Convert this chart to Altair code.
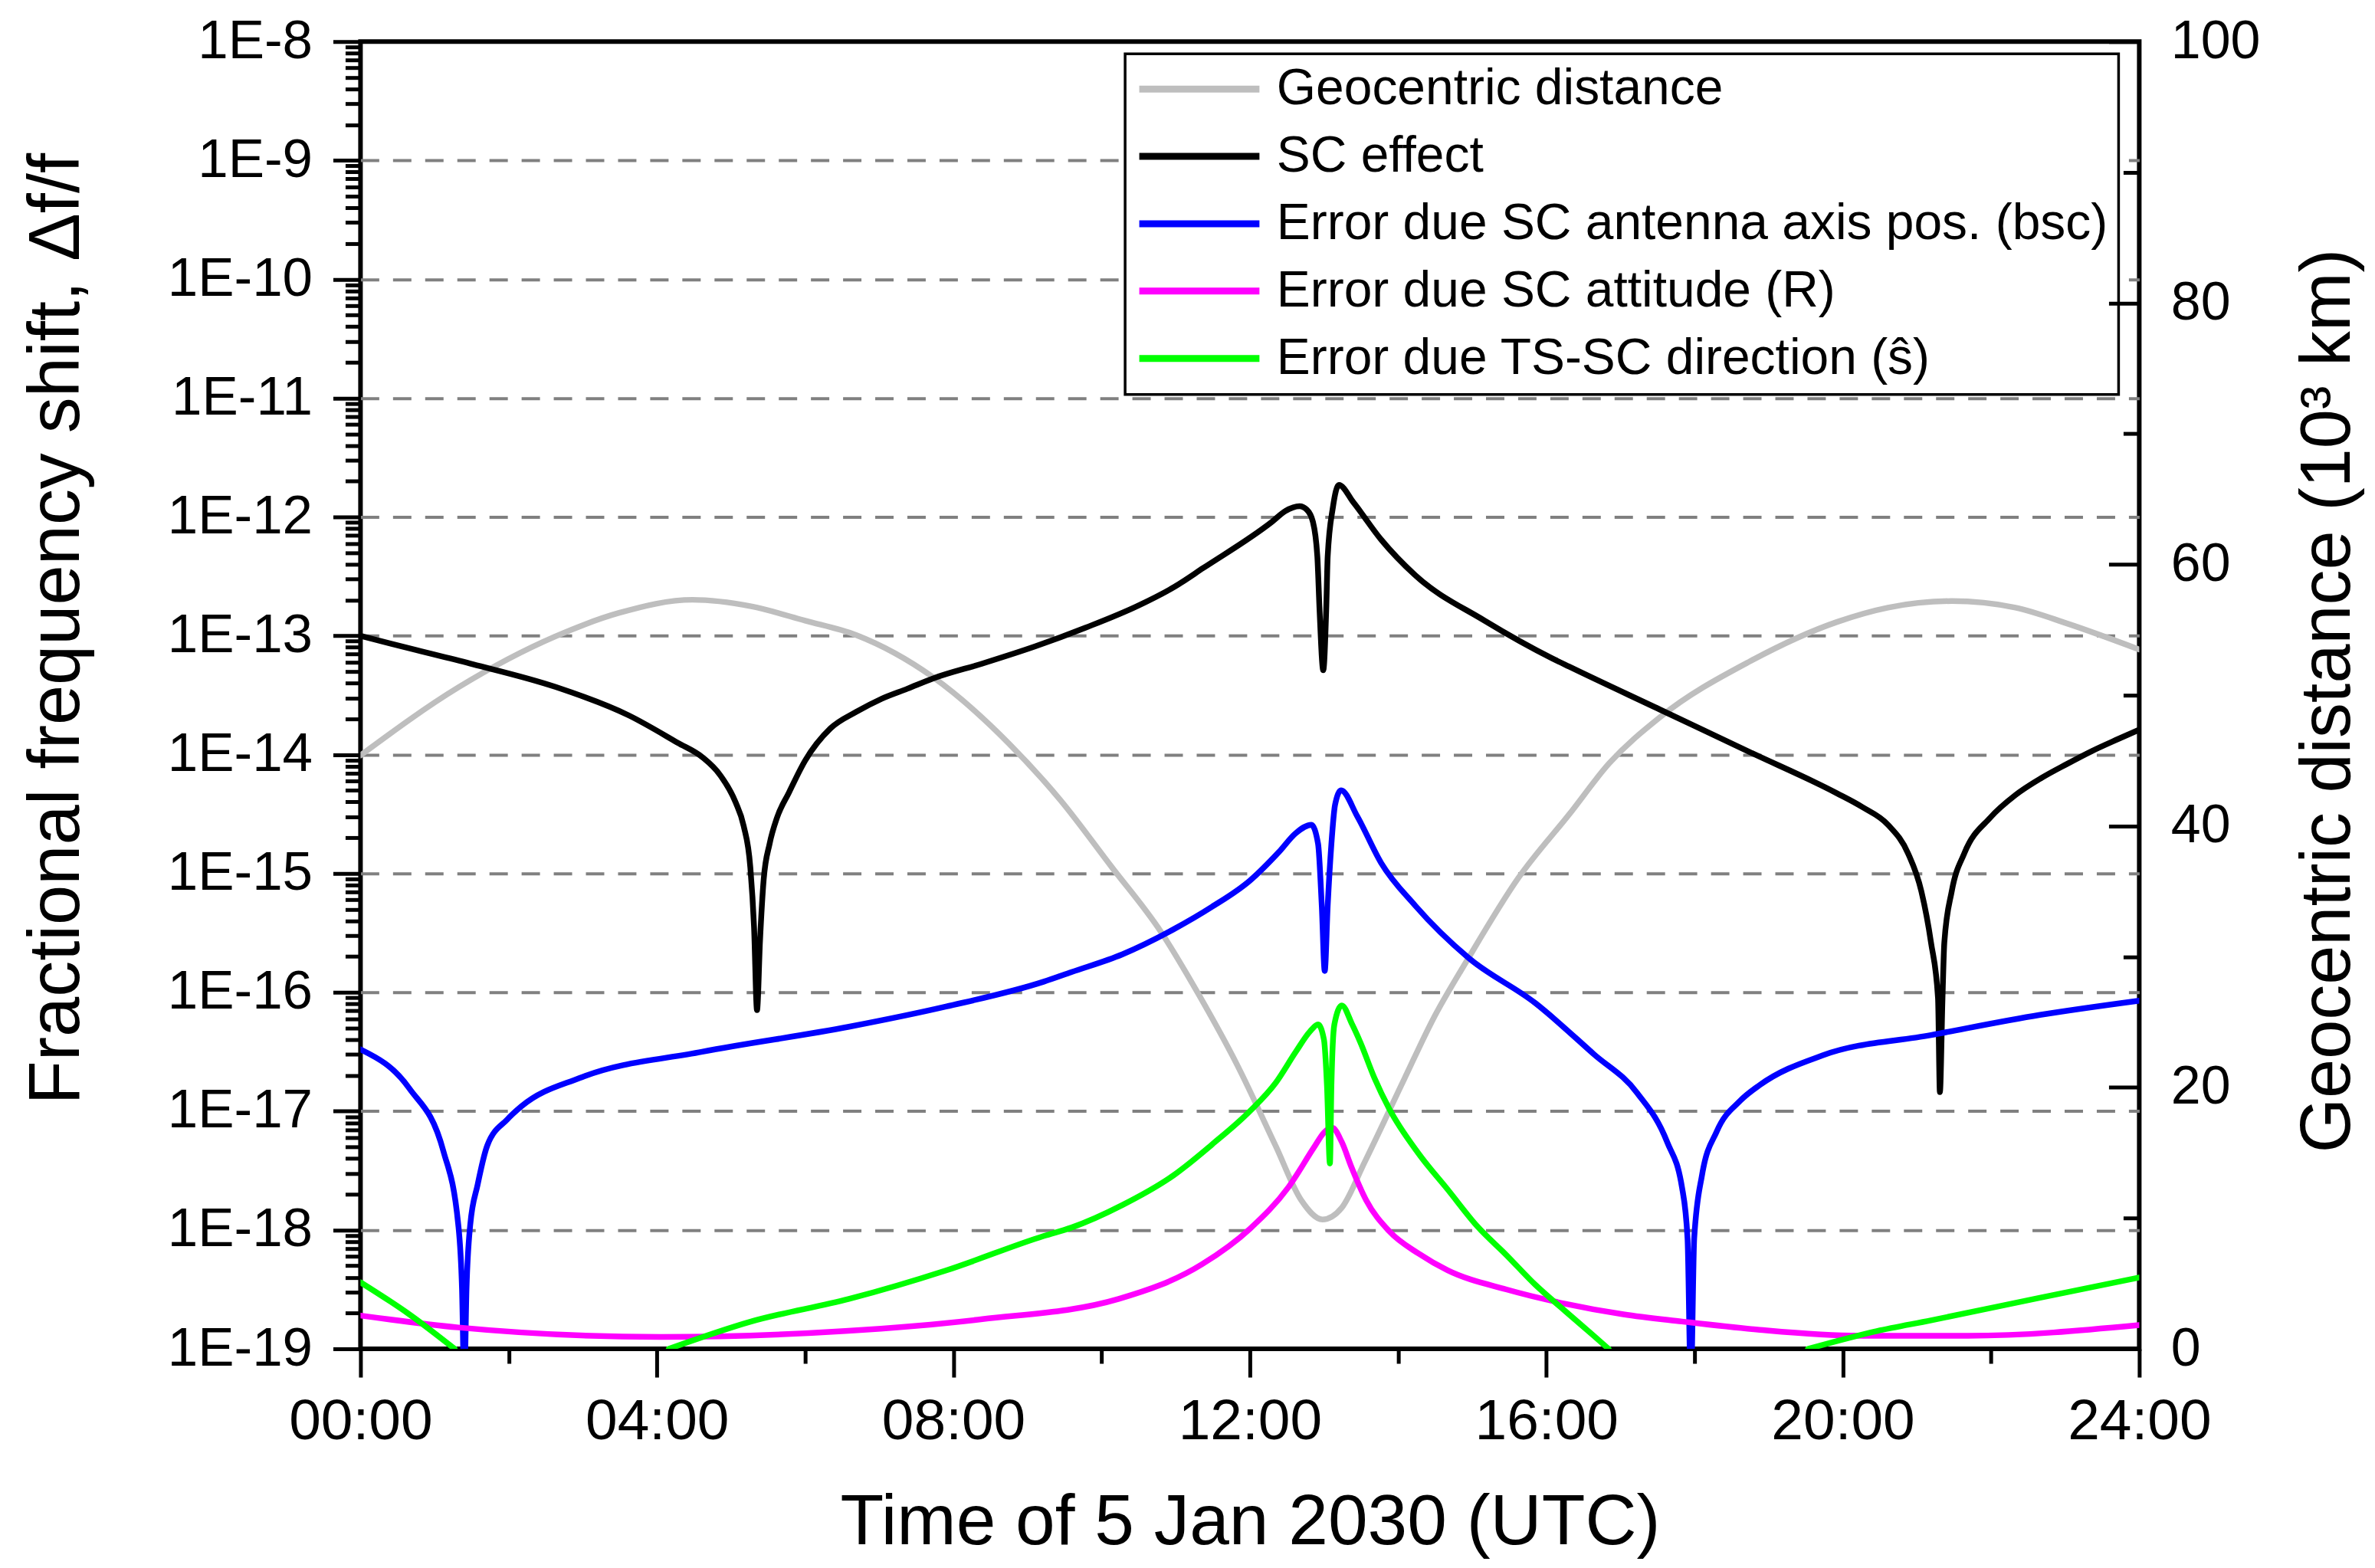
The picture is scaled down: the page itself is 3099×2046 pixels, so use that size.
import json
import numpy as np
import pandas as pd
import altair as alt

FONT = "Liberation Sans"

# ---------------- series names / colours ----------------
SERIES = [
    "Geocentric distance",
    "SC effect",
    "Error due SC antenna axis pos. (bsc)",
    "Error due SC attitude (R)",
    "Error due TS-SC direction (ŝ)",
]
COLORS = ["#BEBEBE", "#000000", "#0000FF", "#FF00FF", "#00FF00"]

# ---------------- data: (hour of day, log10 of Δf/f) ----------------
SC_EFFECT = [
    (0.00, -13.00), (0.75, -13.12), (1.52, -13.24), (2.63, -13.43), (3.62, -13.67),
    (4.28, -13.90), (4.61, -14.02), (4.85, -14.17), (5.06, -14.40), (5.17, -14.60),
    (5.26, -14.95), (5.31, -15.45), (5.35, -16.15), (5.39, -15.57), (5.44, -15.05),
    (5.52, -14.75), (5.62, -14.53), (5.78, -14.32), (6.00, -14.05), (6.34, -13.78),
    (6.69, -13.64), (7.03, -13.53), (7.38, -13.445), (7.72, -13.36), (8.41, -13.23),
    (9.10, -13.09), (9.79, -12.93), (10.48, -12.75), (10.99, -12.585), (11.37, -12.43),
    (12.30, -12.04), (12.48, -11.95), (12.67, -11.91), (12.77, -11.94), (12.85, -12.04),
    (12.91, -12.33), (12.94, -12.78), (12.99, -13.29), (13.03, -12.78), (13.05, -12.33),
    (13.12, -11.92), (13.20, -11.73), (13.40, -11.88), (13.77, -12.19), (14.23, -12.49),
    (15.16, -12.87), (16.08, -13.19), (16.31, -13.26), (17.53, -13.62), (18.75, -13.98),
    (19.92, -14.325), (20.26, -14.44), (20.61, -14.59), (20.88, -14.83), (21.06, -15.15),
    (21.19, -15.58), (21.285, -16.05), (21.31, -16.84), (21.345, -16.05), (21.37, -15.58),
    (21.47, -15.15), (21.64, -14.83), (21.99, -14.53), (22.33, -14.34), (22.67, -14.20),
    (23.02, -14.08), (23.36, -13.97), (23.71, -13.87), (24.00, -13.79),
]

ANTENNA_AXIS = [
    (0.00, -16.48), (0.66, -16.81), (1.12, -17.34), (1.32, -17.96), (1.37, -18.50),
    (1.40, -19.30), (1.43, -18.50), (1.48, -17.96), (1.58, -17.62), (1.71, -17.29),
    (1.98, -17.07), (2.17, -16.96), (2.96, -16.72), (4.61, -16.50), (6.59, -16.29),
    (7.90, -16.12), (9.22, -15.91), (9.59, -15.83), (10.28, -15.68), (10.97, -15.47),
    (11.49, -15.28), (12.00, -15.06), (12.39, -14.82), (12.62, -14.66), (12.83, -14.59),
    (12.92, -14.75), (12.97, -15.27), (13.01, -15.82), (13.05, -15.27), (13.10, -14.75),
    (13.15, -14.42), (13.23, -14.30), (13.45, -14.52), (13.77, -14.91), (14.23, -15.27),
    (14.95, -15.71), (15.85, -16.09), (16.64, -16.52), (17.23, -16.85), (17.63, -17.26),
    (17.83, -17.64), (17.905, -18.07), (17.95, -19.30), (17.995, -18.07), (18.10, -17.54),
    (18.30, -17.17), (18.62, -16.91), (18.88, -16.78), (19.73, -16.53), (21.19, -16.36),
    (22.66, -16.19), (24.00, -16.07),
]

ATTITUDE = [
    (0.00, -18.72), (1.32, -18.82), (4.05, -18.90), (6.54, -18.85), (8.39, -18.75),
    (10.23, -18.58), (11.35, -18.29), (12.00, -17.99), (12.52, -17.64), (12.87, -17.30),
    (13.00, -17.18), (13.11, -17.14), (13.24, -17.26), (13.37, -17.47), (13.57, -17.75),
    (13.88, -18.01), (14.28, -18.20), (14.67, -18.34), (15.46, -18.50), (16.25, -18.62),
    (17.04, -18.71), (17.83, -18.77), (18.88, -18.84), (20.22, -18.89), (21.69, -18.89),
    (24.00, -18.80),
]

# TS-SC direction: three visible pieces (it drops below 1E-19 in between)
DIRECTION_1 = [(0.00, -18.44), (0.66, -18.71), (1.27, -19.00)]
DIRECTION_2 = [
    (4.16, -19.00), (5.27, -18.77), (6.59, -18.58), (7.90, -18.34), (9.22, -18.05),
    (9.59, -17.98), (10.28, -17.79), (10.97, -17.54), (11.49, -17.28), (12.00, -17.00),
    (12.35, -16.76), (12.62, -16.50), (12.81, -16.33), (12.92, -16.27), (13.00, -16.40),
    (13.04, -16.78), (13.08, -17.44), (13.10, -16.78), (13.14, -16.27), (13.24, -16.11),
    (13.38, -16.27), (13.49, -16.42), (13.68, -16.72), (13.88, -16.98), (14.28, -17.36),
    (14.67, -17.66), (15.07, -17.97), (15.46, -18.21), (15.85, -18.46), (16.25, -18.68),
    (16.64, -18.89), (16.84, -19.00),
]
DIRECTION_3 = [(19.53, -19.00), (20.46, -18.85), (21.19, -18.76), (22.66, -18.57), (24.00, -18.40)]

# Geocentric distance (10^3 km), right axis
GEO_DISTANCE = [
    (0.00, 45.4), (1.32, 50.6), (2.63, 54.5), (3.49, 56.3), (4.48, 57.3), (5.27, 56.8),
    (6.00, 55.7), (6.69, 54.6), (7.72, 51.4), (8.75, 46.3), (9.44, 42.0), (10.13, 36.9),
    (10.80, 31.9), (11.32, 27.0), (11.83, 21.7), (12.35, 15.5), (12.69, 11.4), (12.98, 9.9),
    (13.24, 10.8), (13.55, 14.3), (14.08, 20.6), (14.47, 25.2), (14.95, 29.9), (15.62, 36.0),
    (16.31, 40.9), (16.85, 44.8), (17.53, 48.3), (18.75, 52.6), (19.92, 55.6), (20.61, 56.7),
    (21.47, 57.2), (22.33, 56.7), (23.02, 55.5), (24.00, 53.5),
]

# ---------------- ticks / labels ----------------
X_MAJOR = [0, 4, 8, 12, 16, 20, 24]
X_MINOR = [2, 6, 10, 14, 18, 22]
X_LABELS = ["00:00", "04:00", "08:00", "12:00", "16:00", "20:00", "24:00"]

Y_EXPONENTS = [-8, -9, -10, -11, -12, -13, -14, -15, -16, -17, -18, -19]
Y_LABELS = ["1E-8", "1E-9", "1E-10", "1E-11", "1E-12", "1E-13", "1E-14",
            "1E-15", "1E-16", "1E-17", "1E-18", "1E-19"]
Y_MINOR_MULT = [2, 3, 4, 5, 6, 7, 8, 9]

R_MAJOR = [0, 20, 40, 60, 80, 100]
R_MINOR = [10, 30, 50, 70, 90]
R_LABELS = ["0", "20", "40", "60", "80", "100"]

# ---------------- tables ----------------
rows = []
for name, pieces in [
    (SERIES[1], [SC_EFFECT]),
    (SERIES[2], [ANTENNA_AXIS]),
    (SERIES[3], [ATTITUDE]),
    (SERIES[4], [DIRECTION_1, DIRECTION_2, DIRECTION_3]),
]:
    for k, piece in enumerate(pieces):
        for t, lg in piece:
            rows.append({"t": t, "value": float(10.0 ** lg), "series": name, "seg": f"{name}|{k}"})
main_df = pd.DataFrame(rows)

geo_df = pd.DataFrame({"t": [p[0] for p in GEO_DISTANCE],
                       "dist": [p[1] for p in GEO_DISTANCE],
                       "series": SERIES[0]})

y_ticks = [10.0 ** e for e in Y_EXPONENTS] + [m * 10.0 ** e for e in Y_EXPONENTS[1:] for m in Y_MINOR_MULT]
y_ticks = sorted(y_ticks)

MAJOR = "(abs(log(datum.value)/LN10 - round(log(datum.value)/LN10)) < 0.01)"

# ---------------- scales / axes ----------------
x_scale = alt.Scale(domain=[0, 24], nice=False, zero=False)
x_axis = alt.Axis(
    orient="bottom",
    values=sorted(X_MAJOR + X_MINOR),
    labelExpr=f"indexof({json.dumps(X_MAJOR)}, datum.value) >= 0 ? "
              f"{json.dumps(X_LABELS)}[indexof({json.dumps(X_MAJOR)}, datum.value)] : ''",
    tickSize=alt.ExprRef(expr=f"indexof({json.dumps(X_MAJOR)}, datum.value) >= 0 ? 37 : 19"),
    tickWidth=5, tickColor="black", domain=False, grid=False,
    labelFont=FONT, labelFontSize=75, labelColor="black", labelPadding=22,
    labelFlush=False, labelOverlap=False, labelLimit=1000,
    title="Time of 5 Jan 2030 (UTC)", titleFont=FONT, titleFontSize=93,
    titleFontWeight="normal", titleColor="black",
    titleX=1162, titleY=255, titleBaseline="alphabetic", titleAlign="center",
    zindex=1,
)

y_scale = alt.Scale(type="log", domain=[1e-19, 1e-8], nice=False)
y_axis = alt.Axis(
    orient="left",
    values=y_ticks,
    labelExpr=f"{MAJOR} ? {json.dumps(Y_LABELS)}[indexof({json.dumps(Y_EXPONENTS)}, "
              f"round(log(datum.value)/LN10))] : ''",
    tickSize=alt.ExprRef(expr=f"{MAJOR} ? 36 : 20"),
    tickWidth=5, tickColor="black", domain=False,
    grid=True, gridColor="#808080", gridDash=[24, 18], gridWidth=4,
    gridOpacity=alt.ExprRef(expr=f"({MAJOR} && datum.value > 2e-19 && datum.value < 5e-9) ? 1 : 0"),
    labelFont=FONT, labelFontSize=71, labelColor="black", labelPadding=27,
    labelFlush=False, labelOverlap=False, labelLimit=1000,
    title="Fractional frequency shift, Δf/f", titleFont=FONT, titleFontSize=94,
    titleFontWeight="normal", titleColor="black",
    titleAngle=270, titleX=-368, titleY=767, titleBaseline="alphabetic", titleAlign="center",
    zindex=0,
)

r_scale = alt.Scale(domain=[0, 100], nice=False, zero=False)
r_axis = alt.Axis(
    orient="right",
    values=sorted(R_MAJOR + R_MINOR),
    labelExpr=f"indexof({json.dumps(R_MAJOR)}, datum.value) >= 0 ? "
              f"{json.dumps(R_LABELS)}[indexof({json.dumps(R_MAJOR)}, datum.value)] : ''",
    tickSize=alt.ExprRef(expr=f"indexof({json.dumps(R_MAJOR)}, datum.value) >= 0 ? -40 : -21"),
    tickWidth=5, tickColor="black", domain=False, grid=False,
    labelFont=FONT, labelFontSize=70, labelColor="black", labelPadding=81,
    labelAlign="left", labelFlush=False, labelOverlap=False, labelLimit=1000,
    title="Geocentric distance (10³ km)", titleFont=FONT, titleFontSize=92,
    titleFontWeight="normal", titleColor="black",
    titleAngle=270, titleX=274, titleY=861, titleBaseline="alphabetic", titleAlign="center",
    zindex=1,
)

color_scale = alt.Scale(domain=SERIES, range=COLORS)
legend = alt.Legend(
    orient="none", legendX=999, legendY=16, title=None,
    symbolType="stroke", symbolSize=24649, symbolStrokeWidth=9,
    labelFont=FONT, labelFontSize=66, labelColor="black", labelOffset=18, labelLimit=3000,
    rowPadding=22, clipHeight=64, padding=14,
    strokeColor="black", fillColor="white",
)

LINE = dict(strokeWidth=7.5, clip=True, strokeJoin="round", strokeCap="round", interpolate="monotone")

geo = alt.Chart(geo_df).mark_line(**LINE).encode(
    x=alt.X("t:Q", scale=x_scale, axis=x_axis),
    y=alt.Y("dist:Q", scale=r_scale, axis=r_axis),
    color=alt.Color("series:N", scale=color_scale, legend=legend),
)

main = alt.Chart(main_df).mark_line(**LINE).encode(
    x=alt.X("t:Q", scale=x_scale, axis=x_axis),
    y=alt.Y("value:Q", scale=y_scale, axis=y_axis),
    color=alt.Color("series:N", scale=color_scale, legend=legend),
    detail="seg:N",
)

chart = (
    alt.layer(geo, main)
    .resolve_scale(y="independent")
    .properties(
        width=2324, height=1708,
        autosize=alt.AutoSizeParams(type="none"),
        padding={"left": 463, "top": 45, "right": 300, "bottom": 277},
        background="white",
    )
    .configure_view(stroke="black", strokeWidth=6)
    .configure_legend(strokeWidth=3.5)
)

chart.save("out.html", embed_options={"renderer": "svg", "actions": False})
